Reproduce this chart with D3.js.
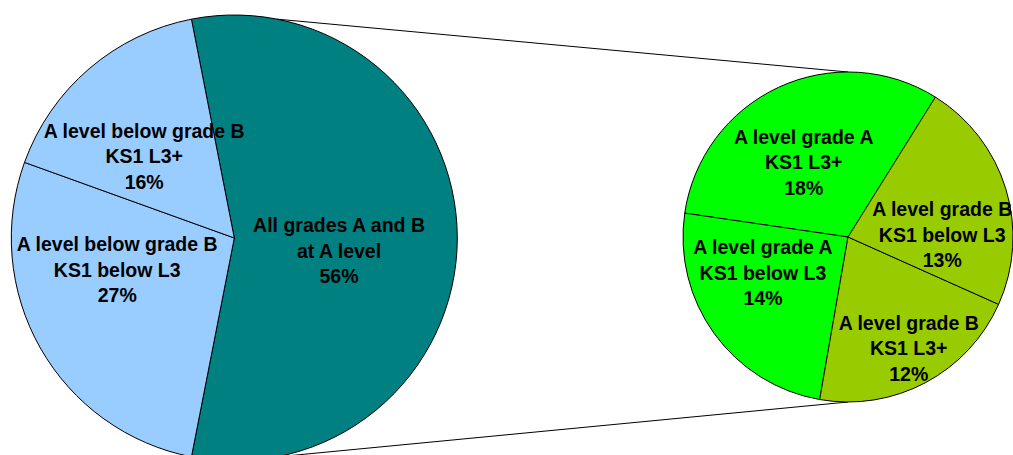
<!DOCTYPE html>
<html>
<head>
<meta charset="utf-8">
<script src="https://cdn.jsdelivr.net/npm/d3@7"></script>
<style>
  html, body { margin: 0; padding: 0; background: #fff; }
  svg { display: block; }
  text { font-family: Arial, "Liberation Sans", sans-serif; font-weight: bold; fill: #000; }
</style>
</head>
<body>
<svg id="chart" width="1013" height="455"></svg>
<script>
// ---- Data ----
// Main pie (share of all pupils); the first slice is split into the second pie
const mainLabels = [
  ["All grades A and B", "at A level"],
  ["A level below grade B", "KS1 below L3"],
  ["A level below grade B", "KS1 L3+"]
];
const mainValues = [56.1, 27.4, 16.4];
const mainColors = ["#008080", "#99CCFF", "#99CCFF"];

// Secondary pie (breakdown of "All grades A and B")
const subLabels = [
  ["A level grade A", "KS1 L3+"],
  ["A level grade A", "KS1 below L3"],
  ["A level grade B", "KS1 L3+"],
  ["A level grade B", "KS1 below L3"]
];
const subValues = [18, 14, 12, 13];
const subColors = ["#00FF00", "#00FF00", "#99CC00", "#99CC00"];

// ---- Layout ----
const W = 1013, H = 455;
const mainC = [234.3, 238], mainR = 223;
const subC = [848, 237], subR = 165;
const subStart = 32 * Math.PI / 180;
const fontSize = 19.5, lineH = 25.5, capHalf = 7;
// label nudges from arc centroid (layout only)
const mainNudge = [[-6.8, 12.7], [-20.1, -23.3], [-17.5, 2.9]];
const subNudge = [[-9.6, 0], [-18.2, -12.4], [22, 38.2], [15.3, 21.8]];

const svg = d3.select("#chart");
const pct = d3.format(".0f");

// main pie: split slice centred on the right-hand side
const total = d3.sum(mainValues);
const splitAngle = mainValues[0] / total * 2 * Math.PI;
const mainStart = Math.PI / 2 - splitAngle / 2;
const mainPie = d3.pie().sort(null).value(d => d)
  .startAngle(mainStart).endAngle(mainStart + 2 * Math.PI);
const subPie = d3.pie().sort(null).value(d => d)
  .startAngle(subStart).endAngle(subStart - 2 * Math.PI);

const mainArc = d3.arc().innerRadius(0).outerRadius(mainR);
const subArc = d3.arc().innerRadius(0).outerRadius(subR);

// connector lines
const attach = Math.PI / 2 - (Math.PI - splitAngle / 2);
const pt = (c, r, a) => [c[0] + r * Math.sin(a), c[1] - r * Math.cos(a)];
const p1 = pt(mainC, mainR, attach), p2 = pt(mainC, mainR, Math.PI - attach);
const lines = [[p1, [subC[0], subC[1] - subR]], [p2, [subC[0], subC[1] + subR]]];
svg.append("g").selectAll("line").data(lines).join("line")
  .attr("x1", d => d[0][0]).attr("y1", d => d[0][1])
  .attr("x2", d => d[1][0]).attr("y2", d => d[1][1])
  .attr("stroke", "#000").attr("stroke-width", 1);

function drawPie(c, pieGen, arcGen, values, colors, labels, nudges) {
  const g = svg.append("g").attr("transform", `translate(${c[0]},${c[1]})`);
  const arcs = pieGen(values);
  g.selectAll("path").data(arcs).join("path")
    .attr("d", arcGen)
    .attr("fill", (d, i) => colors[i])
    .attr("stroke", "#000").attr("stroke-width", 1);
  const lg = g.selectAll("text").data(arcs).join("text")
    .attr("text-anchor", "middle")
    .attr("font-size", fontSize)
    .attr("transform", (d, i) => {
      const cc = arcGen.centroid(d);
      return `translate(${cc[0] + nudges[i][0]},${cc[1] + nudges[i][1]})`;
    });
  lg.each(function(d, i) {
    const t = d3.select(this);
    const lines = labels[i].concat([pct(values[i]) + "%"]);
    lines.forEach((s, k) => {
      t.append("tspan").attr("x", 0).attr("y", (k - 1) * lineH + capHalf).text(s);
    });
  });
}

drawPie(mainC, mainPie, mainArc, mainValues, mainColors, mainLabels, mainNudge);
drawPie(subC, subPie, subArc, subValues, subColors, subLabels, subNudge);
</script>
</body>
</html>
